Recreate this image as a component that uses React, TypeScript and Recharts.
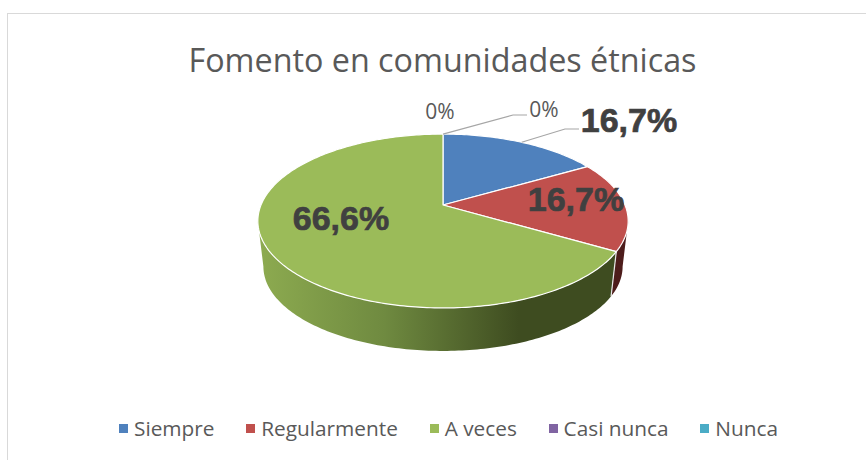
import { PieChart, Pie, Legend } from 'recharts';

const categories = ['Siempre', 'Regularmente', 'A veces', 'Casi nunca', 'Nunca'];
const percentages = [16.7, 16.7, 66.6, 0, 0];
const colors = ['#4f81bd', '#c0504d', '#9bbb59', '#8064a2', '#4bacc6'];
const wallColors = ['#2a4565', '#4d1c1b', 'url(#greenWall)', '#8064a2', '#4bacc6'];

const tableData = categories.map((name, i) => ({ name, value: percentages[i], fill: colors[i] }));

// Excel-style tilted pie: circle to ellipse with a bit of perspective
const TILT_K = 0.184;
const TILT_B = 84 / 182;
const DEPTH_SCALE = 0.97;
const VANISH_Y = 1741;
const FRONT_START = 100.6;
const FRONT_END = 259.4;

function project(cx: number, cy: number, r: number, clockAngle: number) {
  const rad = (clockAngle * Math.PI) / 180;
  const u = Math.sin(rad);
  const v = Math.cos(rad);
  const den = 1 + TILT_K * v;
  return { x: cx + (r * u) / den, y: cy - (r * TILT_B * v) / den };
}

function dropped(p: { x: number; y: number }, cx: number) {
  return {
    x: cx + (p.x - cx) * DEPTH_SCALE,
    y: VANISH_Y - (VANISH_Y - p.y) * DEPTH_SCALE,
  };
}

function arcPoints(cx: number, cy: number, r: number, from: number, to: number) {
  const pts = [];
  const steps = Math.max(2, Math.ceil(Math.abs(to - from)));
  for (let i = 0; i <= steps; i++) {
    pts.push(project(cx, cy, r, from + ((to - from) * i) / steps));
  }
  return pts;
}

const toPath = (pts: { x: number; y: number }[]) =>
  pts.map((p, i) => `${i ? 'L' : 'M'}${p.x.toFixed(2)} ${p.y.toFixed(2)}`).join(' ');

function Slice3D(props: any) {
  const { cx, cy, outerRadius, startAngle, endAngle, fill, index } = props;
  if (Math.abs(endAngle - startAngle) < 0.01) return <g />;
  // recharts angles run counter clockwise from 3 o'clock
  const from = 90 - startAngle;
  const to = 90 - endAngle;
  const top = arcPoints(cx, cy, outerRadius, from, to);
  const wallFrom = Math.max(from, FRONT_START);
  const wallTo = Math.min(to, FRONT_END);
  let wall = null;
  if (wallTo > wallFrom) {
    const rim = arcPoints(cx, cy, outerRadius, wallFrom, wallTo);
    const low = rim.map((p) => dropped(p, cx)).reverse();
    wall = (
      <>
        <path d={toPath([...rim, ...low]) + ' Z'} fill={wallColors[index]} />
        {/* light seam where this wall meets the previous slice */}
        {from > FRONT_START && (
          <path d={toPath([rim[0], low[low.length - 1]])} stroke="#e8e8e8" strokeWidth={1.2} fill="none" />
        )}
      </>
    );
  }
  return (
    <g>
      <defs>
        <linearGradient id="greenWall" gradientUnits="userSpaceOnUse" x1="258" y1="0" x2="620" y2="0">
          <stop offset="0" stopColor="#8dab50" />
          <stop offset="0.35" stopColor="#6f8a40" />
          <stop offset="0.72" stopColor="#3e4c20" />
          <stop offset="1" stopColor="#3e4c20" />
        </linearGradient>
      </defs>
      {wall}
      <path
        d={`M${cx} ${cy} ${toPath(top).replace('M', 'L')} Z`}
        fill={fill}
        stroke="#ffffff"
        strokeWidth={1.2}
        strokeLinejoin="round"
      />
    </g>
  );
}

const labelSpots = [
  { x: 629, y: 120, size: 34, bold: true, elbow: [565, 129, 579, 129] },
  { x: 576, y: 199, size: 34, bold: true },
  { x: 341, y: 218, size: 34, bold: true },
  { x: 544, y: 109, size: 21, bold: false, elbow: [513, 115, 527, 115] },
  { x: 440, y: 111, size: 21, bold: false },
];

function SliceLabel(props: any) {
  const { index, value, cx, cy, outerRadius, startAngle, endAngle } = props;
  const spot = labelSpots[index];
  const text = `${String(value).replace('.', ',')}%`;
  let leader = null;
  if (spot.elbow) {
    const mid = 90 - (startAngle + endAngle) / 2;
    const from = project(cx, cy, outerRadius, mid);
    const [ex, ey, fx, fy] = spot.elbow;
    leader = (
      <polyline
        points={`${from.x},${from.y} ${ex},${ey} ${fx},${fy}`}
        fill="none"
        stroke="#a6a6a6"
        strokeWidth={1.2}
      />
    );
  }
  return (
    <g>
      {leader}
      <text
        x={spot.x}
        y={spot.y}
        textAnchor="middle"
        dominantBaseline="central"
        fontFamily={spot.bold ? '"Liberation Sans", Arial, sans-serif' : '"Open Sans", sans-serif'}
        fontSize={spot.size}
        fontWeight={spot.bold ? 700 : 400}
        fill={spot.bold ? '#404040' : '#595959'}
        stroke={spot.bold ? '#404040' : 'none'}
        strokeWidth={spot.bold ? 0.7 : 0}
      >
        {text}
      </text>
    </g>
  );
}

function LegendRow({ payload }: any) {
  // legend keeps category order, not sorted by value
  const items = [...(payload || [])].sort(
    (a: any, b: any) => categories.indexOf(a.value) - categories.indexOf(b.value),
  );
  return (
    <div
      style={{
        display: 'flex',
        justifyContent: 'center',
        gap: 31.75,
        fontFamily: '"Open Sans", sans-serif',
        fontSize: 20.8,
        color: '#595959',
        lineHeight: '28px',
      }}
    >
      {items.map((item: any) => (
        <span key={item.value} style={{ display: 'flex', alignItems: 'center', gap: 6 }}>
          <span style={{ width: 9, height: 9, background: item.color, display: 'inline-block' }} />
          {item.value}
        </span>
      ))}
    </div>
  );
}

export default function App() {
  return (
    <div style={{ position: 'absolute', left: 0, top: 0, width: 866, height: 460, background: '#fff', overflow: 'hidden' }}>
      <div
        style={{
          position: 'absolute',
          left: 7,
          top: 13,
          width: 900,
          height: 500,
          border: '1px solid #d9d9d9',
        }}
      />
      <div
        style={{
          position: 'absolute',
          left: 0,
          top: 36,
          width: 885,
          textAlign: 'center',
          fontFamily: '"Open Sans", sans-serif',
          fontSize: 32.3,
          lineHeight: '46px',
          color: '#595959',
        }}
      >
        Fomento en comunidades étnicas
      </div>
      <div style={{ position: 'absolute', left: 0, top: 0 }}>
        <PieChart width={866} height={460} margin={{ top: 0, right: 0, bottom: 0, left: 0 }}>
          <Pie
            data={tableData}
            dataKey="value"
            nameKey="name"
            cx={443}
            cy={205}
            outerRadius={182}
            startAngle={90}
            endAngle={-270}
            stroke="none"
            shape={Slice3D}
            label={SliceLabel}
            labelLine={false}
            isAnimationActive={false}
          />
          <Legend
            content={<LegendRow />}
            layout="horizontal"
            verticalAlign="bottom"
            wrapperStyle={{ left: 0, width: 897, top: 414 }}
          />
        </PieChart>
      </div>
    </div>
  );
}
